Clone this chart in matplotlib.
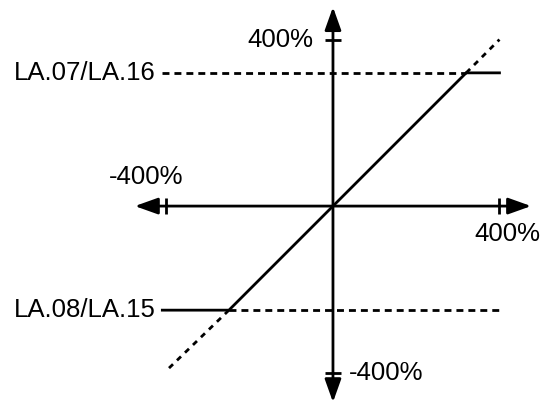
import matplotlib
matplotlib.use("Agg")
import matplotlib.pyplot as plt

# Data (percent)
axis_limit = 400
upper_limit = 320
lower_limit = -250
upper_label = "LA.07/LA.16"
lower_label = "LA.08/LA.15"
tick_labels = ["400%", "-400%"]

# Characteristic (solid)
char_x = [-axis_limit, lower_limit, upper_limit, axis_limit]
char_y = [lower_limit, lower_limit, upper_limit, upper_limit]
# Extensions of the linear part (dashed)
ext_lo_x = [lower_limit, -axis_limit]
ext_lo_y = [lower_limit, -395]
ext_hi_x = [upper_limit, axis_limit]
ext_hi_y = [upper_limit, axis_limit]
# Limit reference lines (dashed)
hi_ref_x = [-410, upper_limit]
lo_ref_x = [lower_limit, axis_limit]

plt.rcParams['font.family'] = ['Liberation Sans', 'DejaVu Sans']

fig = plt.figure(figsize=(5.44, 4.03), dpi=100)
ax = fig.add_axes([0, 0, 1, 1])
ax.set_xlim(-800, 507)
ax.set_ylim(-473, 495)
ax.axis('off')

lw = 2.0
# axes with arrows
arrow_style = "<|-|>,head_length=14,head_width=5"
ax.annotate('', xy=(476, 0), xytext=(-476, 0),
            arrowprops=dict(arrowstyle=arrow_style, lw=lw, color='black',
                            mutation_scale=1, shrinkA=0, shrinkB=0))
ax.annotate('', xy=(0, 478), xytext=(0, -471),
            arrowprops=dict(arrowstyle=arrow_style, lw=lw, color='black',
                            mutation_scale=1, shrinkA=0, shrinkB=0))
# tick marks
ax.plot([-axis_limit, axis_limit], [0, 0], linestyle='none', marker='|',
        ms=11, mew=2, color='black')
ax.plot([0, 0], [-axis_limit, axis_limit], linestyle='none', marker='_',
        ms=11, mew=2, color='black')

# dashed reference lines
ax.plot(hi_ref_x, [upper_limit, upper_limit], color='black', lw=lw,
        linestyle=(0, (2.5, 1.8)))
ax.plot(lo_ref_x, [lower_limit, lower_limit], color='black', lw=lw,
        linestyle=(0, (2.5, 1.8)))
ax.plot(ext_lo_x, ext_lo_y, color='black', lw=lw, linestyle=(0, (2.0, 2.0)))
ax.plot(ext_hi_x, ext_hi_y, color='black', lw=lw, linestyle=(0, (2.0, 2.0)))

# characteristic
ax.plot([-410] + char_x[1:], char_y, color='black', lw=lw,
        solid_joinstyle='miter')

fs = 18.5
ax.text(-46, axis_limit, tick_labels[0], ha='right', va='center', fontsize=fs)
ax.text(38, -axis_limit, tick_labels[1], ha='left', va='center', fontsize=fs)
ax.text(-450, 70, tick_labels[1], ha='center', va='center', fontsize=fs)
ax.text(420, -68, tick_labels[0], ha='center', va='center', fontsize=fs)
ax.text(-425, upper_limit, upper_label, ha='right', va='center', fontsize=fs)
ax.text(-425, lower_limit, lower_label, ha='right', va='center', fontsize=fs)

fig.savefig('out.png', dpi=100)
